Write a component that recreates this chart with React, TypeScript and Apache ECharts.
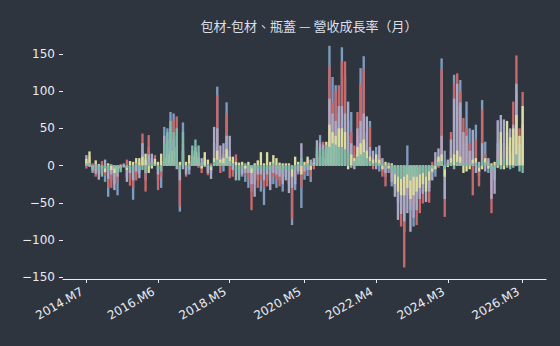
import React, { useEffect, useRef } from "react";
import * as echarts from "echarts";

// Monthly revenue growth (%) per company, 2014.M7 .. 2026.M3 (141 months)
const companyBlue = [
  5, 8, -10, -6, -12, -10, -22, -42, -20, -25,
  -40, -5, 3, -15, -18, -46, -12, -10, 20, -20,
  25, 10, 6, -20, -30, 52, 50, 72, 70, 40,
  -62, 58, -8, -12, 15, 22, 18, 4, 10, -6,
  -10, 30, 106, 12, -8, 85, 20, 8, 10, -12,
  -15, -22, -30, -35, -25, -20, -35, -53, -20, -25,
  -25, -30, -20, -35, -15, -25, -80, -33, -12, -57,
  -19, -14, -22, 6, 20, 41, 18, 15, 161, 119,
  108, 70, 159, 120, 40, 72, 15, 40, 131, 147,
  30, 60, 10, 25, -8, -8, -15, -10, -28, -30,
  -50, -60, -90, 27, -60, -82, -50, -40, -35, -30,
  -30, -10, -15, 10, 144, 20, 5, 20, 122, 80,
  115, 30, 86, 50, 20, 55, -15, 88, 32, -10,
  -30, -20, 30, 35, 30, 25, 20, 40, 100, 25,
  40,
];
const companyRed = [
  -4, 12, 3, -15, -8, 6, -14, -30, -30, -15,
  -22, 2, -3, 8, -27, -30, -20, 4, 43, -35,
  41, 6, 14, -33, -15, 20, 25, 40, 62, 66,
  -55, 30, -15, 6, 10, 15, -3, -10, 5, -13,
  3, 20, 95, -10, 15, 70, -17, -15, 15, -8,
  -10, -12, -18, -60, -15, -30, -20, -30, -28, -10,
  -15, -20, -28, -20, -8, -20, -72, -20, -5, -30,
  -12, 8, -15, -5, 15, 25, 32, 20, 135, 85,
  100, 108, 140, 140, 60, 45, 27, 72, 110, 130,
  45, 52, -5, 10, 15, -15, -28, -6, -15, -20,
  -40, -82, -137, -40, -50, -55, -80, -64, -51, -25,
  -50, 5, 8, -3, 130, -69, 3, 45, 110, 124,
  100, 64, 50, 30, -40, 35, -28, 75, 15, 6,
  -64, -15, 20, 25, 20, 30, 15, 86, 148, 50,
  99,
];
const companyLavender = [
  14, -2, -6, -11, -19, -12, 8, -18, -12, -33,
  -15, -4, -2, -22, -10, -20, -8, -17, 30, 8,
  15, 16, 4, -12, 6, 40, 35, 50, 35, -5,
  -20, -5, -12, -6, 20, 25, 12, 10, 12, -10,
  -18, 52, 50, 27, 30, 40, 40, -6, -20, -15,
  -12, -10, -10, -25, -42, -12, -12, -20, -12, -33,
  -10, -12, -15, -25, -20, -37, -30, -25, -8, 30,
  -8, -6, 8, 10, 34, 30, 28, 25, 90, 70,
  60, 80, 80, 70, 86, 30, -5, 50, 60, 70,
  66, 25, 20, -5, 27, 10, -10, 4, -22, -42,
  -73, -65, -75, -64, -89, -70, -60, -45, -38, -49,
  -35, -20, 18, 23, 40, -45, 8, 35, 90, 110,
  85, 45, 40, 20, 48, -10, 5, 30, -8, 10,
  -45, -38, 61, 68, 62, 45, 50, 55, 110, 30,
  55,
];
const companyYellow = [
  9, 19, -3, 7, 2, -4, -9, 3, -6, -10,
  -8, -3, 1, -6, 6, 5, 10, 10, 12, 16,
  -10, -4, 9, 5, 16, 10, 15, 20, 20, 25,
  5, 20, 5, 14, 12, 18, 10, -4, 18, 8,
  -6, 10, 20, 8, 10, 22, 12, 12, 5, 4,
  5, -4, 5, -10, 3, 7, 18, 3, 18, 5,
  14, 10, 4, 3, 3, 3, -15, 12, 5, -12,
  5, 12, -6, 3, 10, 12, 10, 32, 55, 45,
  40, 50, 50, 45, -5, 15, 10, 25, 30, 35,
  20, 12, 8, 15, 8, -5, 5, -4, 3, -25,
  -35, -40, -40, -30, -45, -40, -35, -30, -25, -35,
  -20, -8, -5, 12, 15, -15, -2, 10, 15, 20,
  12, -10, -8, -5, 8, 10, -8, -5, 10, -4,
  3, 5, -3, 45, -5, 60, 38, 50, 68, 40,
  80,
];
const companyTeal = [
  3, 4, -8, 2, -5, -15, -4, -8, 2, -4,
  -12, -9, -1, -3, -5, -8, 3, -6, -6, -10,
  6, 3, 2, -6, -8, 30, 45, 60, 45, 50,
  -10, 45, -3, 3, 27, 35, 27, 3, -2, 2,
  -2, 5, 8, 4, 3, 10, 6, 3, -8, -20,
  -5, 3, -6, -4, -8, -5, -6, -8, -5, -8,
  3, -5, -6, -10, -5, -8, -5, -6, 2, 10,
  -3, 3, 2, 2, 25, 20, 22, 28, 25, 30,
  28, 25, 25, 22, 20, -3, 6, 12, 15, 18,
  10, 6, 3, 4, 3, 3, -4, 2, -8, -12,
  -15, -18, -15, -12, -20, -15, -15, -12, -10, -15,
  -8, -4, 3, 5, 6, -5, 2, 4, -5, 5,
  4, 3, 4, 3, 3, 4, -3, 8, 4, 2,
  -8, -6, 8, -5, 10, -3, -5, -3, 15, -8,
  -10,
];

const seriesNames = ["公司一", "公司二", "公司三", "公司四", "公司五"];
const seriesColors = ["#7d9cbf", "#c8696c", "#aaa9c6", "#d9dea0", "#7dbaa8"];
const seriesValues = [companyBlue, companyRed, companyLavender, companyYellow, companyTeal];

const tickLabels = ["2014.M7", "2016.M6", "2018.M5", "2020.M5", "2022.M4", "2024.M3", "2026.M3"];
const yTicks = [-150, -100, -50, 0, 50, 100, 150];

// axis spans 2013.M12 .. 2026.M10 (7 months margin on each side of data)
const axisStartYear = 2013;
const axisStartMonth = 12;
const axisMonthCount = 155;
const dataOffset = 7;

const months: string[] = [];
for (let i = 0; i < axisMonthCount; i++) {
  const t = axisStartYear * 12 + (axisStartMonth - 1) + i;
  months.push(`${Math.floor(t / 12)}.M${(t % 12) + 1}`);
}

export default function App() {
  const ref = useRef<HTMLDivElement>(null);
  useEffect(() => {
    if (!ref.current) return;
    const chart = echarts.init(ref.current, null, { renderer: "svg" });
    const showTick = (_i: number, v: string) => tickLabels.includes(v);
    const pad = (arr: number[]) => {
      const out: (number | null)[] = [];
      for (let i = 0; i < axisMonthCount; i++) {
        const k = i - dataOffset;
        out.push(k >= 0 && k < arr.length ? arr[k] : null);
      }
      return out;
    };
    chart.setOption({
      animation: false,
      backgroundColor: "#2f353f",
      title: {
        text: "包材-包材、瓶蓋 — 營收成長率（月）",
        left: 304,
        textAlign: "center",
        top: 14,
        textStyle: {
          color: "#dcdfe5",
          fontSize: 13,
          fontWeight: "normal",
          fontFamily: "Noto Sans CJK TC, DejaVu Sans, sans-serif",
        },
      },
      grid: { left: 63, right: 14, top: 35, bottom: 67, containLabel: false },
      xAxis: {
        type: "category",
        data: months,
        boundaryGap: true,
        axisLine: { show: true, onZero: false, lineStyle: { color: "#e8ebf0", width: 1.2 } },
        axisTick: {
          show: true,
          alignWithLabel: true,
          interval: showTick,
          length: 4,
          lineStyle: { color: "#e8ebf0" },
        },
        axisLabel: {
          interval: showTick,
          rotate: 30,
          color: "#e8ebf0",
          fontSize: 12,
          fontFamily: "DejaVu Sans",
          margin: 9,
          padding: [0, 5, 0, 0],
        },
        splitLine: { show: false },
      },
      yAxis: {
        type: "value",
        min: -152.5,
        max: 175.5,
        axisLine: { show: false },
        axisTick: {
          show: true,
          customValues: yTicks,
          length: 4,
          lineStyle: { color: "#e8ebf0" },
        },
        axisLabel: {
          customValues: yTicks,
          color: "#e8ebf0",
          fontSize: 12,
          fontFamily: "DejaVu Sans",
          margin: 8,
          formatter: (v: number) => String(v).replace("-", "\u2212"),
        },
        splitLine: { show: false },
      },
      series: seriesValues.map((vals, i) => ({
        name: seriesNames[i],
        type: "bar",
        data: pad(vals),
        barWidth: "76%",
        barGap: "-100%",
        itemStyle: { color: seriesColors[i] },
      })),
    });
    return () => chart.dispose();
  }, []);
  return (
    <div
      ref={ref}
      style={{ position: "fixed", left: 0, top: 0, width: 560, height: 346 }}
    />
  );
}
